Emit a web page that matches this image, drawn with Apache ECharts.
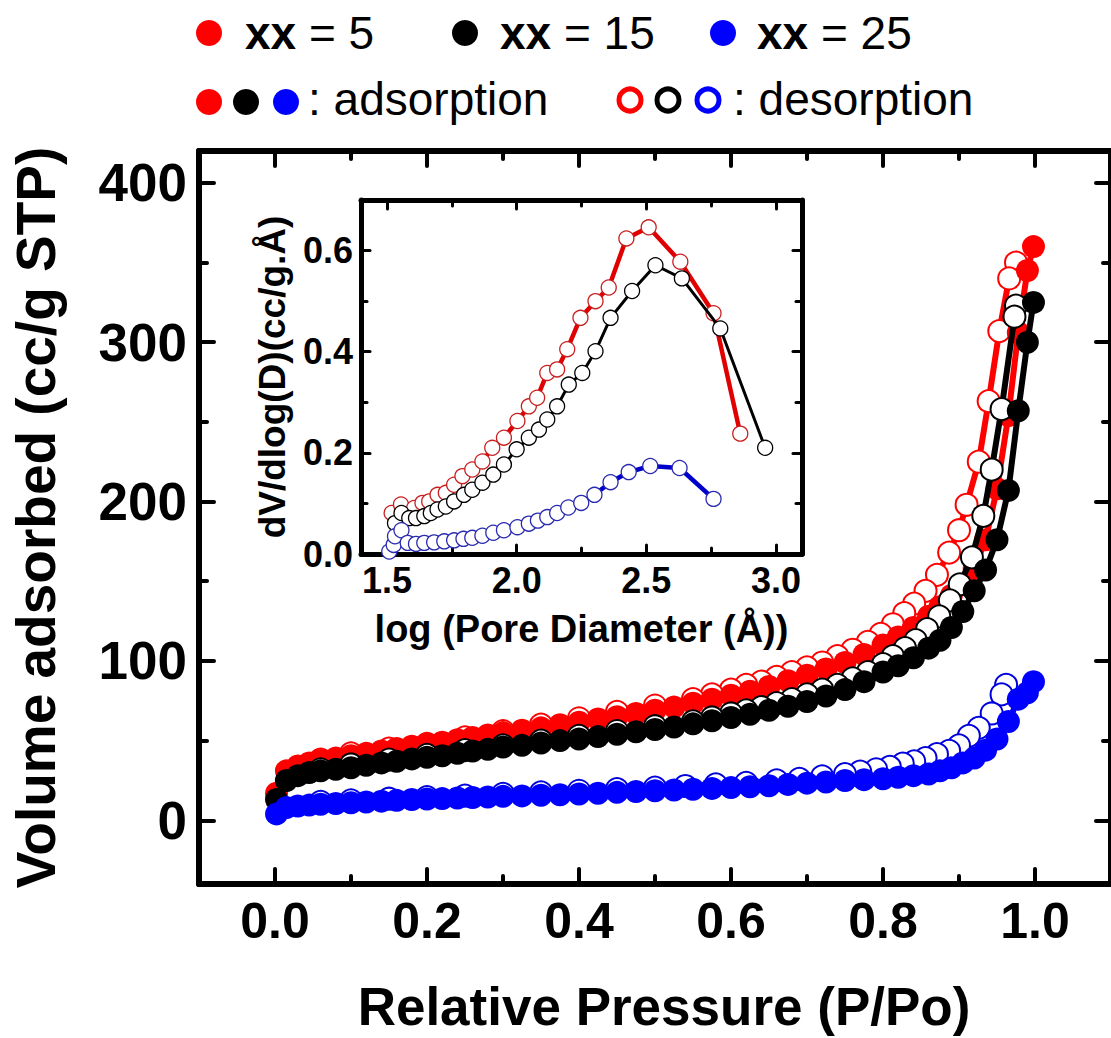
<!DOCTYPE html>
<html><head><meta charset="utf-8">
<script src="https://cdn.jsdelivr.net/npm/echarts@6/dist/echarts.min.js"></script>
<style>html,body{margin:0;padding:0;background:#fff}#c{width:1111px;height:1038px}</style>
</head><body><div id="c"></div>
<script>
// ---------- main isotherm data ----------
const pAds = [0.002,0.015,0.03,0.045,0.06,0.08,0.10,0.12,0.14,0.16,0.18,0.20,0.22,0.24,0.26,0.28,0.30,0.325,0.35,0.375,0.40,0.425,0.45,0.475,0.50,0.525,0.55,0.575,0.60,0.625,0.65,0.675,0.70,0.725,0.75,0.775,0.80,0.82,0.84,0.86,0.875,0.89,0.905,0.92,0.935,0.95,0.965,0.978,0.99,0.998];
const redAds = [17,31,34,36,37.5,39,40.5,42,43.5,45,46.5,47.5,49,50.5,52,53.5,55,56.5,58,60,61.5,63.5,65,67,69,71,73.5,76,78.5,81,84,87.5,91,95,99,104,110,115,121,128,134,141,148,158,176,208,254,306,345,360];
const blackAds = [13,25,28,30,31,32,33,34.5,36,37,38.5,39.5,40.5,42,43.5,44.5,46,47,48.5,50,51,52.5,54,55.5,57,58.5,60.5,62.5,64.5,66.5,69,71.5,74.5,78,82,87,93,97,102,108,113,121,131,144,157,176,207,257,300,325];
const blueAds = [4,8,9,9.5,10,10.5,11,11.5,12,12.5,13,13.3,13.6,14,14.3,14.6,15,15.3,15.7,16,16.5,17,17.5,18,18.5,19,19.5,20,20.5,21,21.7,22.5,23.3,24,25,25.5,26,27,28,29,31,33,36,39,44,51,62,76,80,87];

const pRedDes = [0.975,0.966,0.953,0.939,0.926,0.910,0.900,0.887,0.871,0.856,0.841,0.828,0.813,0.797,0.78,0.76,0.74,0.72,0.70,0.68,0.66,0.64,0.62,0.60,0.575,0.55,0.50,0.45,0.40,0.35,0.30,0.25,0.20,0.15,0.10,0.06];
const redDes = [350,340,307,263,225,198,182,168,154,144,136,130,123,117,112,107,103,99,96,93,90,87,85,82,79,76,72,68,64,60,56,52,48,45,42,38];
const pBlackDes = [0.975,0.973,0.956,0.943,0.932,0.917,0.901,0.888,0.874,0.858,0.843,0.829,0.813,0.80,0.78,0.76,0.74,0.72,0.70,0.68,0.66,0.64,0.62,0.60,0.575,0.55,0.50,0.45,0.40,0.35,0.30,0.25,0.20,0.15,0.10,0.06];
const blackDes = [323,316,258,220,191,165,148,138,128,120,113,108,103,98,93,89,85,82,79,76,73.5,71,69,67,64.5,62,59,56,53,50,47,44,41,38,35,32];
const pBlueDes = [0.962,0.956,0.943,0.926,0.913,0.900,0.887,0.871,0.856,0.841,0.826,0.809,0.791,0.77,0.75,0.72,0.69,0.66,0.62,0.58,0.54,0.50,0.45,0.40,0.35,0.30,0.25,0.20,0.15,0.10,0.06];
const blueDes = [85,79,67,58,53,47,43.5,41.5,39,37,35.5,33.5,32,30.5,29,27.5,26,25,23.5,22.5,21.5,20.5,19.5,18.5,17.5,16.5,15.5,14.5,13.5,12.5,11.5];

// ---------- inset pore size distribution ----------
const redPsdX = [1.518,1.554,1.605,1.637,1.663,1.695,1.727,1.759,1.791,1.829,1.868,1.906,1.951,2.003,2.047,2.079,2.118,2.156,2.195,2.246,2.304,2.355,2.423,2.509,2.631,2.759,2.862];
const redPsdY = [0.081,0.098,0.091,0.101,0.104,0.117,0.121,0.137,0.154,0.167,0.183,0.210,0.230,0.263,0.292,0.309,0.358,0.365,0.405,0.467,0.500,0.527,0.624,0.646,0.578,0.476,0.238];
const blackPsdX = [1.531,1.556,1.586,1.612,1.644,1.669,1.695,1.727,1.759,1.797,1.829,1.868,1.910,1.951,2.000,2.047,2.086,2.118,2.156,2.201,2.253,2.304,2.362,2.445,2.535,2.637,2.785,2.958];
const blackPsdY = [0.061,0.081,0.071,0.071,0.075,0.081,0.088,0.094,0.104,0.117,0.127,0.141,0.157,0.177,0.207,0.230,0.246,0.266,0.292,0.335,0.358,0.401,0.467,0.520,0.571,0.545,0.446,0.210];
const bluePsdX = [1.509,1.526,1.531,1.556,1.580,1.612,1.644,1.682,1.721,1.759,1.795,1.829,1.868,1.910,1.951,2.003,2.047,2.082,2.118,2.156,2.199,2.249,2.300,2.362,2.432,2.515,2.628,2.759];
const bluePsdY = [0.005,0.018,0.035,0.047,0.022,0.020,0.022,0.023,0.025,0.027,0.030,0.032,0.036,0.042,0.047,0.053,0.060,0.066,0.073,0.081,0.092,0.101,0.117,0.142,0.162,0.174,0.170,0.109];

// ---------- ticks / labels ----------
const mainXMajor = [0, 0.2, 0.4, 0.6, 0.8, 1.0];
const mainXMinor = [0.1, 0.3, 0.5, 0.7, 0.9];
const mainYMajor = [0, 100, 200, 300, 400];
const mainYMinor = [50, 150, 250, 350];
const insetXMajor = [1.5, 2.0, 2.5, 3.0];
const insetXMinor = [1.75, 2.25, 2.75];
const insetYMajor = [0, 0.2, 0.4, 0.6];
const insetYMinor = [0.1, 0.3, 0.5];
const seriesNames = ['xx = 5', 'xx = 15', 'xx = 25'];
const mainXTitle = 'Relative Pressure (P/Po)';
const mainYTitle = 'Volume adsorbed (cc/g STP)';
const insetXTitle = 'log (Pore Diameter (Å))';
const insetYTitle = 'dV/dlog(D)(cc/g.Å)';

const FONT = '"Liberation Sans", Arial, Helvetica, sans-serif';
const RED = '#ff0000', BLK = '#000000', BLU = '#0000ff';

function zip(a, b) { return a.map((v, i) => [v, b[i]]); }

function axis(o) {
  const base = {
    type: 'value', splitLine: { show: false },
    axisLine: { show: false, onZero: false },
    axisLabel: { show: false },
    axisTick: { show: true, inside: true }
  };
  return Object.assign(base, o);
}
function tickStyle(w) { return { color: '#000', width: w, cap: 'round' }; }

const xAxes = [
  // main
  axis({ gridIndex: 0, position: 'bottom', min: -0.1, max: 1.1,
    axisLine: { show: true, onZero: false, lineStyle: { color: '#000', width: 6 } },
    axisTick: { show: true, inside: true, length: 15, lineStyle: tickStyle(4), customValues: mainXMajor },
    axisLabel: { show: true, customValues: mainXMajor, formatter: v => v.toFixed(1), fontSize: 50, fontWeight: 'bold', color: '#000', fontFamily: FONT, margin: 12 },
    name: mainXTitle, nameLocation: 'middle', nameGap: 96,
    nameTextStyle: { fontSize: 53, fontWeight: 'bold', color: '#000', fontFamily: FONT, padding: [0, 0, 0, 18] } }),
  axis({ gridIndex: 0, position: 'bottom', min: -0.1, max: 1.1,
    axisTick: { show: true, inside: true, length: 8, lineStyle: tickStyle(4), customValues: mainXMinor } }),
  axis({ gridIndex: 0, position: 'top', min: -0.1, max: 1.1,
    axisLine: { show: true, onZero: false, lineStyle: { color: '#000', width: 6 } },
    axisTick: { show: true, inside: true, length: 15, lineStyle: tickStyle(4), customValues: mainXMajor } }),
  axis({ gridIndex: 0, position: 'top', min: -0.1, max: 1.1,
    axisTick: { show: true, inside: true, length: 8, lineStyle: tickStyle(4), customValues: mainXMinor } }),
  // inset
  axis({ gridIndex: 1, position: 'bottom', min: 1.4, max: 3.1,
    axisLine: { show: true, onZero: false, lineStyle: { color: '#000', width: 5 } },
    axisTick: { show: true, inside: true, length: 9, lineStyle: tickStyle(3), customValues: insetXMajor },
    axisLabel: { show: true, customValues: insetXMajor, formatter: v => v.toFixed(1), fontSize: 36, fontWeight: 'bold', color: '#000', fontFamily: FONT, margin: 8 },
    name: insetXTitle, nameLocation: 'middle', nameGap: 56,
    nameTextStyle: { fontSize: 38, fontWeight: 'bold', color: '#000', fontFamily: FONT } }),
  axis({ gridIndex: 1, position: 'bottom', min: 1.4, max: 3.1,
    axisTick: { show: true, inside: true, length: 6, lineStyle: tickStyle(3), customValues: insetXMinor } }),
  axis({ gridIndex: 1, position: 'top', min: 1.4, max: 3.1,
    axisLine: { show: true, onZero: false, lineStyle: { color: '#000', width: 5 } },
    axisTick: { show: true, inside: true, length: 9, lineStyle: tickStyle(3), customValues: insetXMajor } }),
  axis({ gridIndex: 1, position: 'top', min: 1.4, max: 3.1,
    axisTick: { show: true, inside: true, length: 6, lineStyle: tickStyle(3), customValues: insetXMinor } })
];

const yAxes = [
  axis({ gridIndex: 0, position: 'left', min: -40, max: 420,
    axisLine: { show: true, onZero: false, lineStyle: { color: '#000', width: 6 } },
    axisTick: { show: true, inside: true, length: 15, lineStyle: tickStyle(4), customValues: mainYMajor },
    axisLabel: { show: true, customValues: mainYMajor, formatter: v => String(v), fontSize: 53, fontWeight: 'bold', color: '#000', fontFamily: FONT, margin: 12 },
    name: mainYTitle, nameLocation: 'middle', nameGap: 136,
    nameTextStyle: { fontSize: 55, fontWeight: 'bold', color: '#000', fontFamily: FONT } }),
  axis({ gridIndex: 0, position: 'left', min: -40, max: 420,
    axisTick: { show: true, inside: true, length: 8, lineStyle: tickStyle(4), customValues: mainYMinor } }),
  axis({ gridIndex: 0, position: 'right', min: -40, max: 420,
    axisLine: { show: true, onZero: false, lineStyle: { color: '#000', width: 6 } },
    axisTick: { show: true, inside: true, length: 15, lineStyle: tickStyle(4), customValues: mainYMajor } }),
  axis({ gridIndex: 0, position: 'right', min: -40, max: 420,
    axisTick: { show: true, inside: true, length: 8, lineStyle: tickStyle(4), customValues: mainYMinor } }),
  axis({ gridIndex: 1, position: 'left', min: 0, max: 0.7,
    axisLine: { show: true, onZero: false, lineStyle: { color: '#000', width: 5 } },
    axisTick: { show: true, inside: true, length: 9, lineStyle: tickStyle(3), customValues: insetYMajor },
    axisLabel: { show: true, customValues: insetYMajor, formatter: v => v.toFixed(1), fontSize: 36, fontWeight: 'bold', color: '#000', fontFamily: FONT, margin: 8 },
    name: insetYTitle, nameLocation: 'middle', nameGap: 70,
    nameTextStyle: { fontSize: 37, fontWeight: 'bold', color: '#000', fontFamily: FONT } }),
  axis({ gridIndex: 1, position: 'left', min: 0, max: 0.7,
    axisTick: { show: true, inside: true, length: 6, lineStyle: tickStyle(3), customValues: insetYMinor } }),
  axis({ gridIndex: 1, position: 'right', min: 0, max: 0.7,
    axisLine: { show: true, onZero: false, lineStyle: { color: '#000', width: 5 } },
    axisTick: { show: true, inside: true, length: 9, lineStyle: tickStyle(3), customValues: insetYMajor } }),
  axis({ gridIndex: 1, position: 'right', min: 0, max: 0.7,
    axisTick: { show: true, inside: true, length: 6, lineStyle: tickStyle(3), customValues: insetYMinor } })
];

function iso(name, data, color, filled, z) {
  return {
    name: name, type: 'line', xAxisIndex: 0, yAxisIndex: 0, z: z,
    data: data, symbol: 'circle', symbolSize: filled ? 23 : 22,
    showAllSymbol: true, animation: false, silent: true,
    lineStyle: { color: color, width: 6 },
    itemStyle: filled ? { color: color, borderWidth: 0 } : { color: '#ffffff', borderColor: color, borderWidth: 2 }
  };
}
function psd(name, data, color, edge, lw, z) {
  return {
    name: name, type: 'line', xAxisIndex: 4, yAxisIndex: 4, z: z,
    data: data, symbol: 'circle', symbolSize: 15,
    showAllSymbol: true, animation: false, silent: true,
    lineStyle: { color: color, width: lw },
    itemStyle: { color: '#ffffff', borderColor: edge, borderWidth: 1.3 }
  };
}

const series = [
  iso(seriesNames[0] + ' desorption', zip(pRedDes, redDes), RED, false, 2),
  iso(seriesNames[0], zip(pAds, redAds), RED, true, 3),
  iso(seriesNames[1] + ' desorption', zip(pBlackDes, blackDes), BLK, false, 4),
  iso(seriesNames[1], zip(pAds, blackAds), BLK, true, 5),
  iso(seriesNames[2] + ' desorption', zip(pBlueDes, blueDes), '#0000dd', false, 6),
  iso(seriesNames[2], zip(pAds, blueAds), BLU, true, 7),
  psd(seriesNames[0] + ' PSD', zip(redPsdX, redPsdY), '#e00000', '#c82020', 4.5, 10),
  psd(seriesNames[1] + ' PSD', zip(blackPsdX, blackPsdY), '#000000', '#000000', 3, 11),
  psd(seriesNames[2] + ' PSD', zip(bluePsdX, bluePsdY), '#0000cc', '#2a2ab0', 4.5, 12)
];

const legendFont = 46;
const graphic = [];
[[209, RED, seriesNames[0], 245], [465, BLK, seriesNames[1], 500], [723, BLU, seriesNames[2], 757]].forEach(d => {
  graphic.push({ type: 'circle', shape: { cx: d[0], cy: 33, r: 13 }, style: { fill: d[1] }, z: 100 });
  graphic.push({ type: 'text', x: d[3], y: 33, z: 100, style: {
    text: '{b|xx}' + d[2].slice(2), rich: { b: { fontWeight: 'bold', fontSize: legendFont, fontFamily: FONT, fill: '#000' } },
    fontSize: legendFont, fontFamily: FONT, fill: '#000', align: 'left', verticalAlign: 'middle' } });
});
[[209, RED], [246, BLK], [286, BLU]].forEach(d => {
  graphic.push({ type: 'circle', shape: { cx: d[0], cy: 102, r: 13 }, style: { fill: d[1] }, z: 100 });
});
graphic.push({ type: 'text', x: 308, y: 99, z: 100, style: { text: ': adsorption', fontSize: legendFont, fontFamily: FONT, fill: '#000', align: 'left', verticalAlign: 'middle' } });
[[630, RED], [668, BLK], [708, BLU]].forEach(d => {
  graphic.push({ type: 'circle', shape: { cx: d[0], cy: 100, r: 11 }, style: { fill: '#fff', stroke: d[1], lineWidth: 5 }, z: 100 });
});
graphic.push({ type: 'text', x: 733, y: 99, z: 100, style: { text: ': desorption', fontSize: legendFont, fontFamily: FONT, fill: '#000', align: 'left', verticalAlign: 'middle' } });

const chart = echarts.init(document.getElementById('c'), null, { renderer: 'svg' });
chart.setOption({
  animation: false,
  backgroundColor: '#ffffff',
  grid: [
    { left: 198, top: 151, width: 923, height: 738, containLabel: false },
    { left: 361, top: 200, width: 441, height: 354, containLabel: false, show: true, backgroundColor: '#ffffff', borderWidth: 0 }
  ],
  xAxis: xAxes,
  yAxis: yAxes,
  series: series,
  graphic: graphic
});
</script>
</body></html>
